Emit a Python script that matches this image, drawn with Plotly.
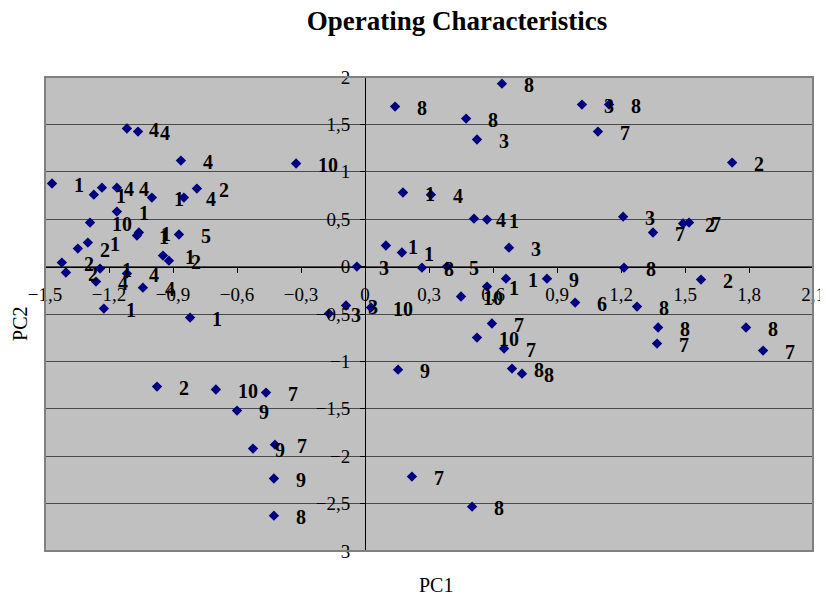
import plotly.graph_objects as go

# PC scores
pc1 = [0.642, 0.141, 0.474, 0.525, 1.017, 1.144, 1.092, 1.721, -0.323,
       -1.116, -1.064, -0.863, -1.467, -1.233, -1.271, -1.163, -0.999, -0.849, -0.788,
       -1.163, -1.289, -1.069, -1.060, -0.872, -1.299, -1.346, -1.421, -1.402, -1.242,
       -1.261, -1.116, -1.041, -0.947, -0.919, -1.224, -0.820,
       0.178, 0.309, 0.511, 0.572, 0.675, 0.098, 0.173, -0.038, 0.267, 0.384,
       0.450, 0.572, 0.661, 0.853, 0.985, -0.169, -0.089, 0.028,
       1.210, 1.491, 1.519, 1.350, 1.214, 1.275, 1.575, 1.374, 1.369, 1.786, 1.866,
       0.595, 0.525, 0.652, 0.155, 0.689, 0.736, 0.220, 0.502,
       -0.975, -0.699, -0.464, -0.600, -0.525, -0.422, -0.427, -0.427]
pc2 = [1.930, 1.688, 1.561, 1.340, 1.709, 1.709, 1.424, 1.097, 1.087,
       1.456, 1.424, 1.118, 0.876, 0.833, 0.759, 0.833, 0.728, 0.728, 0.823,
       0.580, 0.464, 0.327, 0.359, 0.338, 0.253, 0.190, 0.042, -0.063, -0.021,
       -0.158, -0.074, -0.222, 0.116, 0.063, -0.443, -0.538,
       0.781, 0.759, 0.506, 0.496, 0.200, 0.222, 0.148, 0.000, -0.011, 0.000,
       -0.316, -0.211, -0.127, -0.127, -0.380, -0.496, -0.411, -0.432,
       0.527, 0.454, 0.464, 0.359, -0.011, -0.422, -0.137, -0.643, -0.812, -0.643, -0.886,
       -0.601, -0.749, -0.865, -1.087, -1.076, -1.129, -2.215, -2.532,
       -1.266, -1.297, -1.329, -1.519, -1.920, -1.878, -2.236, -2.627]
labels = ["8", "8", "8", "3", "3", "8", "7", "2", "10",
          "4", "4", "4", "1", "4", "1", "4", "1", "4", "2",
          "1", "10", "1", "1", "5", "1", "2", "2", "2", "1",
          "4", "4", "4", "1", "2", "1", "1",
          "1", "4", "4", "1", "3", "1", "1", "3", "8", "5",
          "10", "1", "1", "9", "6", "3", "3", "10",
          "3", "2", "7", "7", "8", "8", "2", "8", "7", "8", "7",
          "7", "10", "7", "9", "8", "8", "7", "8",
          "2", "10", "7", "9", "9", "7", "9", "8"]

x_ticks = [-1.5, -1.2, -0.9, -0.6, -0.3, 0, 0.3, 0.6, 0.9, 1.2, 1.5, 1.8, 2.1]
y_ticks = [-3, -2.5, -2, -1.5, -1, -0.5, 0, 0.5, 1, 1.5, 2]

SERIF = "Liberation Serif, Times New Roman, serif"

fig = go.Figure()
fig.add_trace(go.Scatter(
    x=pc1, y=pc2, mode="markers",
    marker=dict(symbol="diamond", size=8, color="#000080", line=dict(width=0)),
    hoverinfo="skip", showlegend=False,
))

for a, b, t in zip(pc1, pc2, labels):
    fig.add_annotation(x=a, y=b, text=t, xref="x", yref="y", showarrow=False,
                       xanchor="left", yanchor="middle", xshift=20, yshift=-1,
                       font=dict(family=SERIF, size=20, color="black", weight="bold"))

fig.add_annotation(x=0.509, y=-0.0717, xref="paper", yref="paper",
                   text="PC1", showarrow=False, xanchor="center", yanchor="middle",
                   font=dict(family=SERIF, size=20, color="black"))
fig.add_annotation(x=-0.0325, y=0.479, xref="paper", yref="paper",
                   text="PC2", showarrow=False, textangle=-90,
                   xanchor="center", yanchor="middle",
                   font=dict(family=SERIF, size=20, color="black"))

# the page body adds an 8 px offset, so the figure is 820 x 589
fig.update_layout(
    width=820, height=589, autosize=False,
    margin=dict(l=37, r=15, t=69, b=46),
    paper_bgcolor="white", plot_bgcolor="#C0C0C0",
    separators=",.",
    title=dict(text="<b>Operating Characteristics</b>", x=449 / 820, xanchor="center",
               y=1 - 12.5 / 589, yanchor="middle",
               font=dict(family=SERIF, size=27, color="black")),
    xaxis=dict(range=[-1.5, 2.1], tickmode="array", tickvals=x_ticks,
               tickformat=".1~f", automargin=False,
               anchor="free", position=0.6, showgrid=False, zeroline=False,
               showline=True, linecolor="black", linewidth=1,
               ticks="outside", ticklen=5, tickcolor="black", ticklabelstandoff=6,
               tickfont=dict(family=SERIF, size=19, color="black")),
    yaxis=dict(range=[-3, 2], tickmode="array", tickvals=y_ticks,
               tickformat=".1~f", automargin=False,
               anchor="free", position=1.5 / 3.6, showgrid=True, gridcolor="#4a4a4a",
               gridwidth=1, zeroline=False,
               showline=True, linecolor="black", linewidth=1,
               ticks="outside", ticklen=5, tickcolor="black", ticklabelstandoff=6,
               tickfont=dict(family=SERIF, size=19, color="black")),
    shapes=[dict(type="rect", xref="paper", yref="paper", x0=0, x1=1, y0=0, y1=1,
                 line=dict(color="#808080", width=2), layer="above")],
)

fig.write_html("out.html")
